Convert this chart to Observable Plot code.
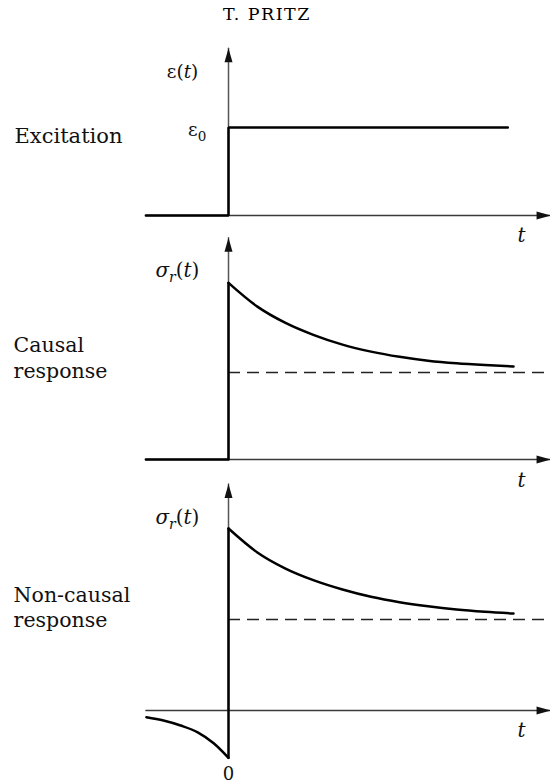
<!DOCTYPE html>
<html><head><meta charset="utf-8">
<script src="https://cdn.jsdelivr.net/npm/d3@7"></script>
<script src="https://cdn.jsdelivr.net/npm/@observablehq/plot@0.6"></script>
<style>
body{margin:0;background:#fff;}
#wrap{position:relative;width:550px;height:784px;overflow:hidden;font-family:"DejaVu Serif",serif;background:#fff;}
#title{position:absolute;left:0;top:4px;width:534px;text-align:center;font-size:17.5px;letter-spacing:1.5px;color:#000;}
svg.panel{position:absolute;left:0;}
</style></head><body>
<div id="wrap"><div id="title">T. PRITZ</div></div>
<script>
// ---- data ----
const xDomain = [-1.5, 5.5];
const xRange = [142.5, 541.5];
const axisT = [-1.45, 5.65];          // horizontal axis extent (t)
const axisTopV = [1.90, 2.55, 2.49];  // vertical axis arrow tips per panel
const asymptoteV = 1;                 // dashed level (panels 2, 3)

// Excitation (step)
const excT = [-1.45, 0, 0, 4.9];
const excV = [0, 0, 1, 1];

// Causal response
const causalStepT = [-1.45, 0, 0];
const causalStepV = [0, 0, 2.03];
const decayT = [0, 0.5, 1, 1.5, 2, 2.5, 3, 3.5, 4, 4.5, 5];
const causalV = [2.03, 1.76, 1.57, 1.43, 1.32, 1.24, 1.18, 1.135, 1.105, 1.085, 1.07];

// Non-causal response
const preT = [-1.44, -1.14, -0.84, -0.54, -0.26, 0];
const preV = [-0.074, -0.11, -0.165, -0.24, -0.36, -0.52];
const jumpT = [0, 0];
const jumpV = [-0.52, 2.0];
const nonCausalV = [2.0, 1.74, 1.56, 1.43, 1.33, 1.25, 1.19, 1.145, 1.11, 1.085, 1.066];

// Labels
const labels1 = [
  {t: -0.53, v: 1.625, s: "ε(t)", a: "end", size: 18.5},
  {t: -0.39, v: 0.966, s: "ε0", a: "end", size: 18.5},
  {t: -3.754, v: 0.90, s: "Excitation", a: "start", size: 21},
  {t: 5.14, v: -0.234, s: "t", a: "middle", size: 20, it: true}
];
const labels2 = [
  {t: -0.51, v: 2.17, s: "σr(t)", a: "end", size: 20},
  {t: -3.77, v: 1.315, s: "Causal", a: "start", size: 20.5},
  {t: -3.77, v: 1.016, s: "response", a: "start", size: 20.5},
  {t: 5.14, v: -0.24, s: "t", a: "middle", size: 20, it: true}
];
const labels3 = [
  {t: -0.51, v: 2.12, s: "σr(t)", a: "end", size: 20},
  {t: -3.77, v: 1.268, s: "Non-causal", a: "start", size: 20.5},
  {t: -3.77, v: 0.99, s: "response", a: "start", size: 20.5},
  {t: 5.14, v: -0.226, s: "t", a: "middle", size: 20, it: true},
  {t: 0, v: -0.70, s: "0", a: "middle", size: 18}
];

// ---- helpers ----
const pts = (T, V) => T.map((t, i) => ({t, v: V[i]}));
const arrowHead = {draw(ctx) { ctx.moveTo(0, 0); ctx.lineTo(-4, 14); ctx.lineTo(4, 14); ctx.closePath(); }};
const rich = {
  "σr(t)": '<tspan font-style="italic">σ</tspan><tspan font-style="italic" font-size="14" dy="5">r</tspan><tspan dy="-5">(</tspan><tspan font-style="italic">t</tspan>)',
  "ε(t)": 'ε(<tspan font-style="italic">t</tspan>)',
  "ε0": 'ε<tspan font-size="13.5" dy="5">0</tspan>'
};
const AX = "#3a3a3a";

function axes(topV) {
  return [
    Plot.line(pts(axisT, [0, 0]), {x: "t", y: "v", stroke: AX, strokeWidth: 1.3}),
    Plot.dot([{t: axisT[1], v: 0}], {x: "t", y: "v", symbol: arrowHead, rotate: 90, fill: "#111", stroke: "none"}),
    Plot.line(pts([0, 0], [0, topV]), {x: "t", y: "v", stroke: "#555", strokeWidth: 1.5}),
    Plot.dot([{t: 0, v: topV}], {x: "t", y: "v", symbol: arrowHead, fill: "#111", stroke: "none"})
  ];
}
function texts(L) {
  return L.map(d => Plot.text([d], {x: "t", y: "v", text: "s", textAnchor: d.a, fontSize: d.size,
    fontFamily: "DejaVu Serif", fontStyle: d.it ? "italic" : "normal", fill: "#111"}));
}
function panel(top, height, yRange, marks) {
  const svg = Plot.plot({
    width: 550, height, margin: 0,
    x: {domain: xDomain, range: xRange, axis: null},
    y: {domain: [0, 1], range: yRange, axis: null},
    style: {overflow: "visible", background: "transparent"},
    marks
  });
  svg.querySelectorAll("text").forEach(el => { const s = el.textContent; if (rich[s]) el.innerHTML = rich[s]; });
  svg.classList.add("panel");
  svg.style.top = top + "px";
  svg.style.position = "absolute";
  document.getElementById("wrap").appendChild(svg);
}
const SIG = {stroke: "#000", strokeWidth: 2.5};

panel(30, 215, [185, 97], [
  ...axes(axisTopV[0]),
  Plot.line(pts(excT, excV), {x: "t", y: "v", ...SIG, strokeLinejoin: "miter"}),
  ...texts(labels1)
]);
panel(232, 260, [227, 140], [
  ...axes(axisTopV[1]),
  Plot.ruleY([asymptoteV], {x1: 0, x2: axisT[1], stroke: "#222", strokeWidth: 1.3, strokeDasharray: "12,7"}),
  Plot.line(pts(causalStepT, causalStepV), {x: "t", y: "v", ...SIG}),
  Plot.line(pts(decayT, causalV), {x: "t", y: "v", ...SIG, curve: "monotone-x"}),
  ...texts(labels2)
]);
panel(478, 306, [232, 141], [
  ...axes(axisTopV[2]),
  Plot.ruleY([asymptoteV], {x1: 0, x2: axisT[1], stroke: "#222", strokeWidth: 1.3, strokeDasharray: "12,7"}),
  Plot.line(pts(preT, preV), {x: "t", y: "v", ...SIG, curve: "monotone-x"}),
  Plot.line(pts(jumpT, jumpV), {x: "t", y: "v", ...SIG}),
  Plot.line(pts(decayT, nonCausalV), {x: "t", y: "v", ...SIG, curve: "monotone-x"}),
  ...texts(labels3)
]);
</script>
</body></html>
